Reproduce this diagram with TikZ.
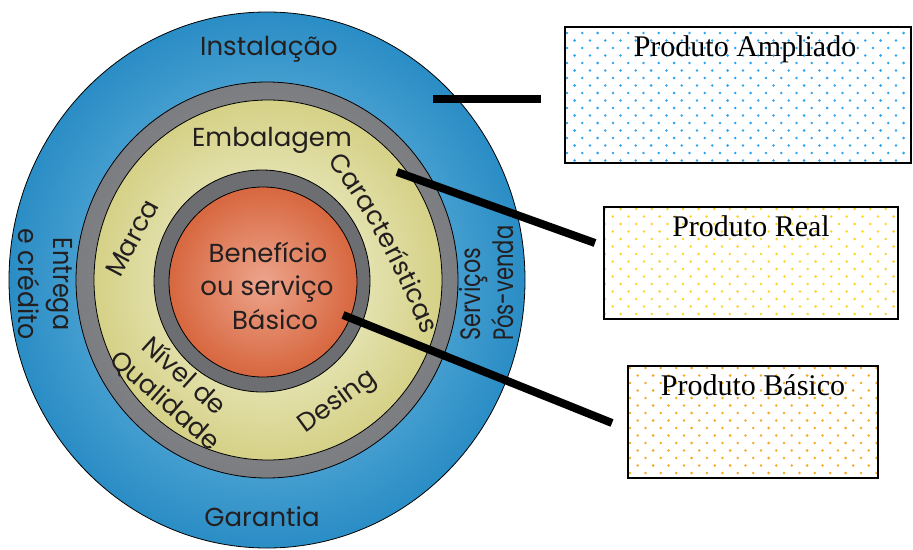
\documentclass[tikz,border=0pt]{standalone}
\usepackage{fontspec}
\setmainfont{Liberation Serif}
\newfontfamily\ringfont{Poppins}
\usetikzlibrary{decorations.text}
\definecolor{ringtext}{HTML}{231F20}
\definecolor{blueIn}{HTML}{8CCBEC}
\definecolor{blueOut}{HTML}{2A8DC5}
\definecolor{grayIn}{HTML}{999A9D}
\definecolor{grayOut}{HTML}{7C7D80}
\definecolor{yelIn}{HTML}{F7F8E3}
\definecolor{yelOut}{HTML}{D5D187}
\definecolor{dgray}{HTML}{6D6E71}
\definecolor{orIn}{HTML}{EDA48C}
\definecolor{orOut}{HTML}{D7673F}
\definecolor{dotA}{HTML}{2FA4F0}
\definecolor{dotB}{HTML}{FFD42A}
\definecolor{dotC}{HTML}{F7A823}
\tikzset{
  ring/.style={draw=black, line width=0.8pt},
  rtxt/.style={text=ringtext, inner sep=0pt, font=\ringfont\fontsize{26}{26}\selectfont},
  btxt/.style={text=black, inner sep=0pt, font=\fontsize{30}{30}\selectfont},
  boxline/.style={draw=black, line width=1.6pt},
  leader/.style={draw=black, line width=8pt},
}
\begin{document}
\begin{tikzpicture}[x=1pt,y=-1pt]
\useasboundingbox (0,0) rectangle (913,549);
% rings
\path[ring, inner color=blueIn, outer color=blueOut] (267,280) ellipse [x radius=258pt, y radius=268pt];
\path[ring, inner color=grayIn, outer color=grayOut] (267,280) ellipse [x radius=191pt, y radius=198pt];
\path[ring, inner color=yelIn, outer color=yelOut] (268,280) ellipse [x radius=174pt, y radius=180pt];
\path[ring, fill=dgray] (262,281) ellipse [x radius=108pt, y radius=111pt];
\path[ring, inner color=orIn, outer color=orOut] (263,282) ellipse [x radius=94pt, y radius=95pt];
% outer ring texts
\node[rtxt, anchor=base] (inst) at (269,55) {Instalação};
\node[rtxt, anchor=base] (gar) at (262,526) {Garantia};
\node[rtxt, anchor=base, rotate=-90] (ent) at (53,284) {\scalebox{0.92}[1.05]{Entrega}};
\node[rtxt, anchor=base, rotate=-90] (cred) at (18,284) {\scalebox{0.97}[1.05]{e crédito}};
\node[rtxt, anchor=base west, rotate=90] (serv) at (480,341) {\scalebox{0.86}[1.08]{Serviços}};
\node[rtxt, anchor=base west, rotate=90] (pos) at (513,341) {\scalebox{0.81}[1.08]{Pós-venda}};
% middle ring texts
\node[rtxt, anchor=base] (emb) at (272,146) {Embalagem};
\node[rtxt, rotate=62] (marca) at (132,238) {Marca};
\node[rtxt, rotate=-42] (nivel) at (185,375) {Nível de};
\node[rtxt, rotate=-41] (qual) at (165,401) {Qualidade};
\node[rtxt, rotate=36] (desing) at (338,402) {Desing};
\path[decorate, decoration={text along path, text align=center, text color=ringtext,
  text={|\ringfont\fontsize{26}{26}\selectfont|Características}}]
  (324,157) .. controls (353,192) and (388,250) .. (425,340);
% core texts
\node[rtxt, anchor=base] (c1) at (268,262) {Benefício};
\node[rtxt, anchor=base] (c2) at (267,295) {ou serviço};
\node[rtxt, anchor=base] (c3) at (275,329) {Básico};
% boxes
\coordinate (b1nw) at (565,27); \coordinate (b1se) at (911,163);
\coordinate (b2nw) at (604,207); \coordinate (b2se) at (898,319);
\coordinate (b3nw) at (628,366); \coordinate (b3se) at (878,478);
\begin{scope}
  \clip (b1nw) rectangle (b1se);
  \foreach \r in {0,...,18} \foreach \c in {0,...,23}
    \fill[dotA] ({567+15.3*\c+7.6*mod(\r,2)},{33+7.5*\r}) circle (1.4pt);
\end{scope}
\begin{scope}
  \clip (b2nw) rectangle (b2se);
  \foreach \r in {0,...,15} \foreach \c in {0,...,20}
    \fill[dotB] ({605+15.6*\c+7.8*mod(\r,2)},{209+7.5*\r}) circle (1.4pt);
\end{scope}
\begin{scope}
  \clip (b3nw) rectangle (b3se);
  \foreach \r in {0,...,15} \foreach \c in {0,...,17}
    \fill[dotC] ({630+15.4*\c+7.7*mod(\r,2)},{368+7.5*\r}) circle (1.4pt);
\end{scope}
\draw[boxline] (b1nw) rectangle (b1se);
\draw[boxline] (b2nw) rectangle (b2se);
\draw[boxline] (b3nw) rectangle (b3se);
\node[btxt, anchor=base] (t1) at (745,56) {Produto Ampliado};
\node[btxt, anchor=base] (t2) at (751,236) {Produto Real};
\node[btxt, anchor=base] (t3) at (753,395) {Produto Básico};
% leader lines
\coordinate (l1a) at (433,99); \coordinate (l1b) at (541,99);
\coordinate (l2a) at (397,172); \coordinate (l2b) at (595,243);
\coordinate (l3a) at (343,315); \coordinate (l3b) at (612,423);
\draw[leader] (l1a) -- (l1b);
\draw[leader] (l2a) -- (l2b);
\draw[leader] (l3a) -- (l3b);
\end{tikzpicture}
\end{document}
